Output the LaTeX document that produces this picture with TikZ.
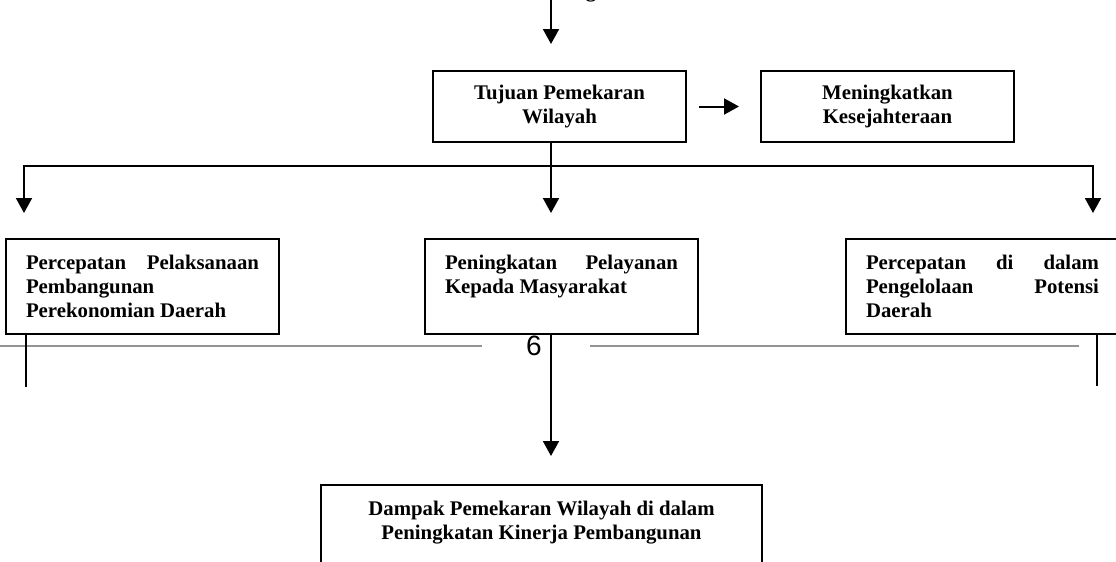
\documentclass[tikz,border=0pt]{standalone}
\usepackage{fontspec}
\setmainfont{Liberation Serif}
\newfontfamily\pagefont{Liberation Sans}
\usetikzlibrary{arrows.meta}
\usetikzlibrary{positioning}
\tikzset{chart/.style={draw, line width=1pt, inner sep=0pt, font=\bfseries\fontsize{10.4}{12}\selectfont},
         aim/.style={chart, align=center, minimum width=126.5pt, minimum height=35.5pt},
         branch/.style={chart, anchor=north west, inner xsep=10pt,
           execute at begin node={\begin{minipage}[c][47.5pt][t]{116.5pt}\vspace*{8pt}},
           execute at end node={\end{minipage}}},
         result/.style={chart, anchor=north west,
           execute at begin node={\begin{minipage}[c][50pt][t]{220.5pt}\centering\vspace*{8pt}},
           execute at end node={\end{minipage}}},
         wire/.style={line width=1pt},
         flow/.style={wire, -{Triangle[length=7.5pt,width=8pt]}},
         footer/.style={draw=black!42, line width=0.8pt}}
\begin{document}
\begin{tikzpicture}[x=0.5pt, y=-0.5pt]
  \useasboundingbox (0,0) rectangle (1116,562);
    \node[font=\bfseries\fontsize{10.4}{12}\selectfont, anchor=base] (heading) at (591,-3) {g};
    \node[aim] (tujuan) at (559.5,106.5) {Tujuan Pemekaran\\Wilayah};
    \node[aim] (sejahtera) at (887.5,106.5) {Meningkatkan\\Kesejahteraan};
    \node[branch] (ekonomi) at (5,238) {Percepatan\hfill Pelaksanaan\\Pembangunan\\Perekonomian Daerah};
    \node[branch] (layanan) at (424,238) {Peningkatan\hfill Pelayanan\\Kepada Masyarakat};
    \node[branch] (potensi) at (845,238) {Percepatan\hfill di\hfill dalam\\Pengelolaan\hfill Potensi\\Daerah};
    \node[result] (dampak) at (320,484) {Dampak Pemekaran Wilayah di dalam\\Peningkatan Kinerja Pembangunan};
    \coordinate (feed) at (551,-5);
    \coordinate (split) at (551,166);
    \coordinate (splitL) at (24,166);
    \coordinate (splitR) at (1093,166);
    \coordinate (tailL) at (26,387);
    \coordinate (tailR) at (1097,386);
  % page footer of the scan
  \draw[footer] (0,346) -- (482,346);
  \draw[footer] (590,346) -- (1079,346);
  \node[font=\pagefont\fontsize{14}{16}\selectfont] (folio) at (534,346) {6};
  % connectors
  \draw[flow, shorten >=13pt] (feed) -- (feed |- tujuan.north);
  \draw[flow, shorten <=6pt, shorten >=10.5pt] (tujuan) -- (sejahtera);
  \draw[wire] (split |- tujuan.south) -- (split);
  \draw[flow, shorten >=12.5pt] (split) -- (splitL) -- (splitL |- ekonomi.north);
  \draw[flow, shorten >=12.5pt] (split) -- (split |- layanan.north);
  \draw[flow, shorten >=12.5pt] (split) -- (splitR) -- (splitR |- potensi.north);
  \draw[wire] (tailL |- ekonomi.south) -- (tailL);
  \draw[wire] (tailR |- potensi.south) -- (tailR);
  \draw[flow, shorten >=14pt] (split |- layanan.south) -- (split |- dampak.north);
\end{tikzpicture}
\end{document}
